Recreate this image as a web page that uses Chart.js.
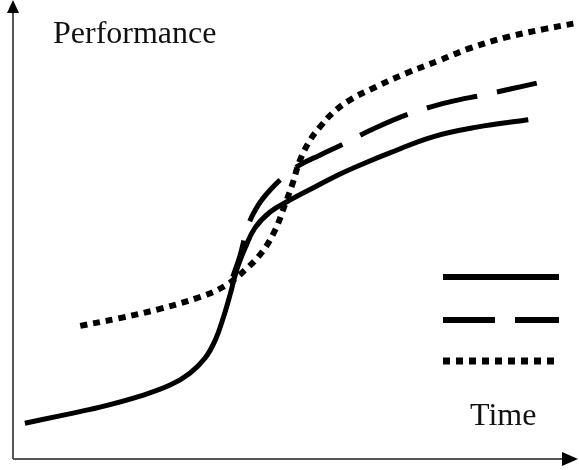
<!DOCTYPE html>
<html>
<head>
<meta charset="utf-8">
<script src="https://cdn.jsdelivr.net/npm/chart.js@4"></script>
<style>
  body { margin: 0; background: #fff; }
  #wrap { width: 579px; height: 470px; position: relative; }
</style>
</head>
<body>
<div id="wrap"><canvas id="chart"></canvas></div>
<script>
// values, time and performance both on a 0-100 scale
var solidTime = [2.1, 8.3, 15.4, 22.5, 27.8, 31.3, 34.0, 35.8, 37.2, 38.4, 39.6, 41.1, 42.8, 45.5, 49.0, 53.5, 57.9, 62.3, 66.7, 74.3, 82.1, 91.2];
var solidPerf = [7.8, 9.4, 11.3, 13.7, 16.1, 18.7, 22.0, 25.9, 30.7, 35.7, 41.2, 46.0, 50.3, 53.8, 56.4, 59.3, 62.1, 64.5, 66.7, 70.2, 72.3, 73.9];

var dashTime = [38.9, 40.2, 41.6, 43.4, 45.5, 48.1, 50.8, 54.3, 58.4, 64.1, 70.6, 77.3, 83.2, 88.0, 92.7];
var dashPerf = [39.7, 44.4, 50.8, 55.3, 58.6, 61.7, 64.1, 66.2, 68.6, 72.1, 75.4, 77.8, 79.3, 80.6, 81.9];

var dotTime = [11.9, 18.9, 26.0, 33.1, 37.5, 41.1, 44.1, 46.4, 48.1, 49.4, 50.8, 52.6, 54.3, 56.6, 59.6, 64.1, 69.7, 75.6, 80.9, 87.4, 94.2, 99.8];
var dotPerf = [29.0, 30.7, 32.7, 35.3, 37.7, 41.2, 45.1, 49.9, 55.3, 59.7, 65.1, 69.5, 72.3, 75.4, 78.2, 81.0, 84.1, 86.9, 89.5, 91.9, 93.7, 95.0];

var yTitle = 'Performance';
var xTitle = 'Time';

function pts(xs, ys) {
    return xs.map(function(x, i){ return {x: x, y: ys[i]}; });
}

// axes with arrows, the two titles and the unlabelled legend samples
var sketchPlugin = {
    id: 'sketch',
    afterDraw: function(chart) {
        var ctx = chart.ctx;
        var a = chart.chartArea;
        ctx.save();
        ctx.strokeStyle = '#555';
        ctx.lineWidth = 2;
        ctx.beginPath();
        ctx.moveTo(a.left, a.bottom);
        ctx.lineTo(a.left, a.top + 8);
        ctx.moveTo(a.left, a.bottom);
        ctx.lineTo(a.right - 10, a.bottom);
        ctx.stroke();
        ctx.fillStyle = '#000';
        ctx.beginPath();
        ctx.moveTo(a.left, a.top);
        ctx.lineTo(a.left - 6, a.top + 13);
        ctx.lineTo(a.left + 6, a.top + 13);
        ctx.closePath();
        ctx.fill();
        ctx.beginPath();
        ctx.moveTo(a.right, a.bottom);
        ctx.lineTo(a.right - 16, a.bottom - 7);
        ctx.lineTo(a.right - 16, a.bottom + 7);
        ctx.closePath();
        ctx.fill();

        ctx.font = '32px "Liberation Serif"';
        ctx.fillStyle = '#111';
        ctx.textBaseline = 'alphabetic';
        ctx.fillText(yTitle, 53, 43);
        ctx.fillText(xTitle, 470, 425);

        var rows = [277, 320, 361];
        chart.data.datasets.forEach(function(ds, i){
            ctx.strokeStyle = ds.borderColor;
            ctx.lineWidth = ds.borderWidth + 1;
            ctx.lineCap = 'butt';
            ctx.setLineDash(ds.borderDash || []);
            ctx.beginPath();
            ctx.moveTo(443, rows[i]);
            ctx.lineTo(559, rows[i]);
            ctx.stroke();
        });
        ctx.restore();
    }
};

var ctx = document.getElementById('chart').getContext('2d');
var myChart = new Chart(ctx, {
    type: 'scatter',
    data: {
        datasets: [{
            label: 'Series 1',
            data: pts(solidTime, solidPerf),
            showLine: true,
            borderColor: '#000',
            borderWidth: 5,
            pointRadius: 0,
            tension: 0.4
        }, {
            label: 'Series 2',
            data: pts(dashTime, dashPerf),
            showLine: true,
            borderColor: '#000',
            borderWidth: 5,
            borderDash: [52, 20],
            borderDashOffset: 14,
            pointRadius: 0,
            tension: 0.4
        }, {
            label: 'Series 3',
            data: pts(dotTime, dotPerf),
            showLine: true,
            borderColor: '#000',
            borderWidth: 6,
            borderDash: [7, 6],
            pointRadius: 0,
            tension: 0.4
        }]
    },
    options: {
        responsive: true,
        maintainAspectRatio: false,
        animation: false,
        layout: { padding: { left: 13, right: 1, top: 0, bottom: 11 } },
        plugins: {
            legend: { display: false },
            tooltip: { enabled: false }
        },
        scales: {
            x: { type: 'linear', min: 0, max: 100, display: false },
            y: { type: 'linear', min: 0, max: 100, display: false }
        }
    },
    plugins: [sketchPlugin]
});
</script>
</body>
</html>
